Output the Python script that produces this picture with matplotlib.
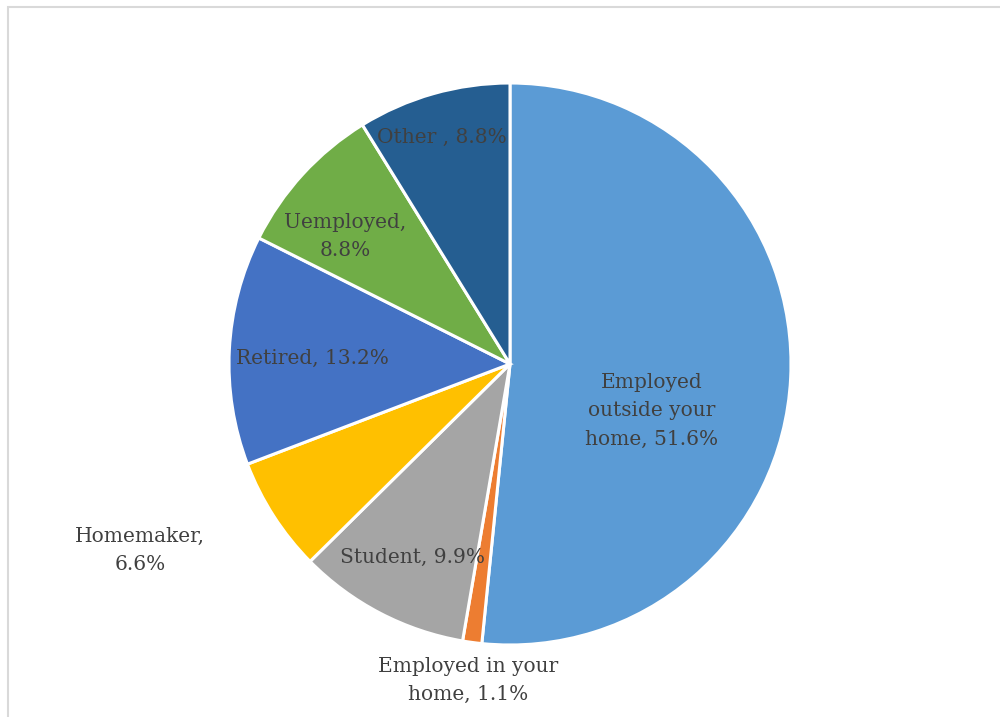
import matplotlib.pyplot as plt
from matplotlib.patches import Rectangle

labels = ['Employed\noutside your\nhome, 51.6%', 'Employed in your\nhome, 1.1%', 'Student, 9.9%',
          'Homemaker,\n6.6%', 'Retired, 13.2%', 'Uemployed,\n8.8%', 'Other , 8.8%']
values = [51.6, 1.1, 9.9, 6.6, 13.2, 8.8, 8.8]
colors = ['#5B9BD5', '#ED7D31', '#A5A5A5', '#FFC000', '#4472C4', '#70AD47', '#255E91']

# label centres in pixels (x, y from top)
label_pos = [(652, 411), (468, 680), (412, 557), (140, 550), (312, 358), (345, 236), (442, 137)]

W, H = 1000, 717
fig = plt.figure(figsize=(W / 100, H / 100), dpi=100)
ax = fig.add_axes([0, 0, 1, 1])

ax.pie(values, colors=colors, startangle=90, counterclock=False,
       center=(510, H - 364), radius=281, frame=True,
       wedgeprops=dict(edgecolor='white', linewidth=2.2))
ax.set_xlim(0, W)
ax.set_ylim(0, H)
ax.axis('off')

for lab, (x, y) in zip(labels, label_pos):
    ax.text(x, H - y, lab, ha='center', va='center', fontsize=14.5,
            family='DejaVu Serif', color='#404040', linespacing=1.6)

ax.add_patch(Rectangle((7.5, -5), W + 10, H - 6.5 + 5, fill=False,
                       edgecolor='#d9d9d9', linewidth=1.5))

fig.savefig('out.png', dpi=100)
